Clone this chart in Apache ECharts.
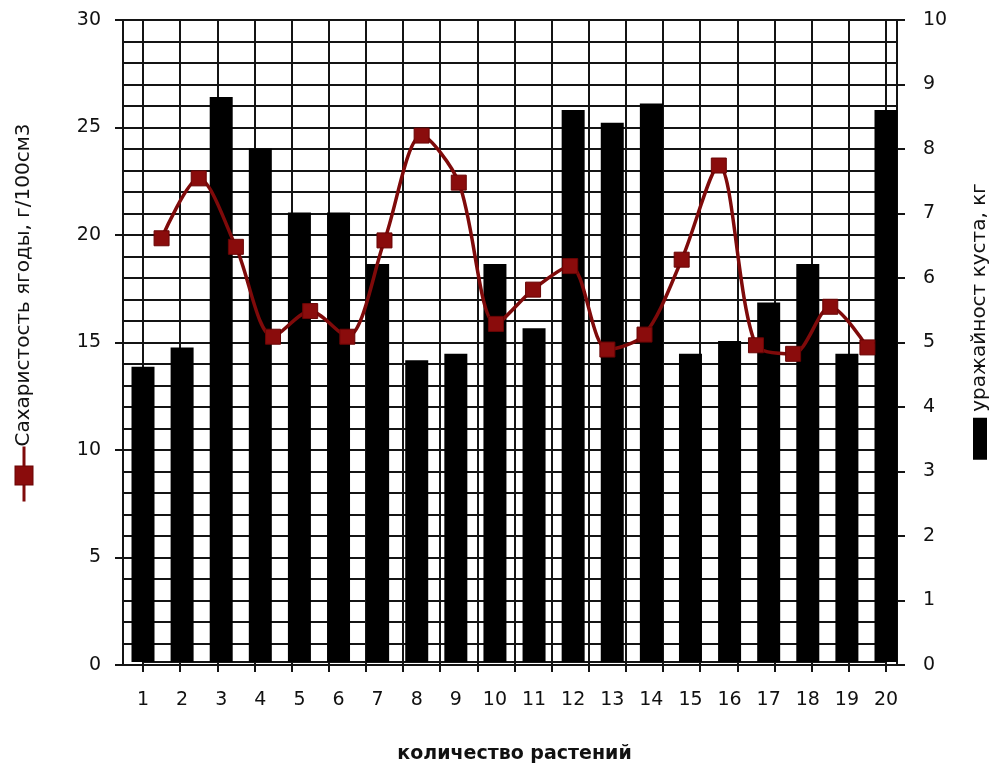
<!DOCTYPE html>
<html><head><meta charset="utf-8">
<script src="https://cdn.jsdelivr.net/npm/echarts@6/dist/echarts.min.js"></script>
<style>html,body{margin:0;padding:0;background:#fff;overflow:hidden}#c{width:998px;height:769px}</style>
</head><body><div id="c"></div>
<script>
const categories = ['1','2','3','4','5','6','7','8','9','10','11','12','13','14','15','16','17','18','19','20'];
const yieldKg = [4.6, 4.9, 8.8, 8.0, 7.0, 7.0, 6.2, 4.7, 4.8, 6.2, 5.2, 8.6, 8.4, 8.7, 4.8, 5.0, 5.6, 6.2, 4.8, 8.6];
const sugar = [19.8, 22.6, 19.4, 15.2, 16.4, 15.2, 19.7, 24.6, 22.4, 15.8, 17.4, 18.5, 14.6, 15.3, 18.8, 23.2, 14.8, 14.4, 16.6, 14.7];
const sugarName = 'Сахаристость ягоды, г/100см3';
const yieldName = 'уражайност куста, кг';
const xName = 'количество растений';

const FONT = 'DejaVu Sans';
const GRID = '#141414';
const RED = '#7f0a0a';

const chart = echarts.init(document.getElementById('c'), null, {renderer: 'canvas'});
chart.setOption({
  animation: false,
  backgroundColor: '#fff',
  grid: [
    {left: 123, right: 93, top: 20, bottom: 104},
    {left: 143, right: 112, top: 20, bottom: 104}
  ],
  xAxis: [
    {gridIndex: 0, type: 'value', min: 0, max: 1, show: false},
    {gridIndex: 1, type: 'category', data: categories, boundaryGap: false,
     axisLine: {show: false}, axisTick: {show: false},
     axisLabel: {margin: 29, fontFamily: FONT, fontSize: 19, color: '#111'},
     name: xName, nameLocation: 'middle', nameGap: 83,
     nameTextStyle: {fontFamily: FONT, fontSize: 19, fontWeight: 'bold', color: '#111'}},
    {gridIndex: 1, type: 'category', data: categories, boundaryGap: true, position: 'bottom',
     axisLine: {show: true, lineStyle: {color: GRID, width: 2}},
     axisTick: {show: true, length: 10, lineStyle: {color: GRID, width: 2}},
     axisLabel: {show: false},
     splitLine: {show: true, lineStyle: {color: GRID, width: 2}}}
  ],
  yAxis: [
    {gridIndex: 0, type: 'value', position: 'left', min: 0, max: 30, interval: 5,
     axisLine: {show: true, lineStyle: {color: GRID, width: 2}},
     axisTick: {show: true, inside: false, length: 8, lineStyle: {color: GRID, width: 2}},
     axisLabel: {margin: 22, fontFamily: FONT, fontSize: 19, color: '#111'},
     splitLine: {show: true, lineStyle: {color: GRID, width: 2}},
     minorTick: {show: false, splitNumber: 5},
     minorSplitLine: {show: true, lineStyle: {color: GRID, width: 2}},
     name: '{sp|}{ln|}{sq|}{ln2|}' + sugarName,
     nameLocation: 'middle', nameRotate: 90, nameGap: 89,
     nameTextStyle: {fontFamily: FONT, fontSize: 20, color: '#111',
       rich: {sp: {width: 60},
              ln: {width: 17, height: 3, backgroundColor: RED},
              sq: {width: 18, height: 17, backgroundColor: '#8a0c0c', borderColor: '#6a0505', borderWidth: 1},
              ln2: {width: 20, height: 3, backgroundColor: RED}}}},
    {gridIndex: 0, type: 'value', position: 'right', min: 0, max: 10, interval: 1,
     axisLine: {show: true, lineStyle: {color: GRID, width: 2}},
     axisTick: {show: true, length: 8, lineStyle: {color: GRID, width: 2}},
     axisLabel: {margin: 26, fontFamily: FONT, fontSize: 19, color: '#111'},
     splitLine: {show: false},
     name: '{sp|}{bx|}{gp|}' + yieldName,
     nameLocation: 'middle', nameRotate: 90, nameGap: 73,
     nameTextStyle: {fontFamily: FONT, fontSize: 20, color: '#111',
       rich: {sp: {width: 42}, bx: {width: 42, height: 14, backgroundColor: '#000'}, gp: {width: 6}}}},
    {gridIndex: 1, type: 'value', min: 0, max: 10, show: false},
    {gridIndex: 1, type: 'value', min: 0, max: 30, show: false}
  ],
  series: [
    {name: yieldName, type: 'bar', xAxisIndex: 1, yAxisIndex: 2, data: yieldKg,
     barWidth: 23, itemStyle: {color: '#000'}, z: 3},
    {name: sugarName, type: 'line', xAxisIndex: 2, yAxisIndex: 3, data: sugar,
     smooth: 0.3, symbol: 'rect', symbolSize: 15,
     lineStyle: {color: RED, width: 3.5},
     itemStyle: {color: '#8a0c0c', borderColor: '#6a0505', borderWidth: 1}, z: 4}
  ]
});
</script>
</body></html>
